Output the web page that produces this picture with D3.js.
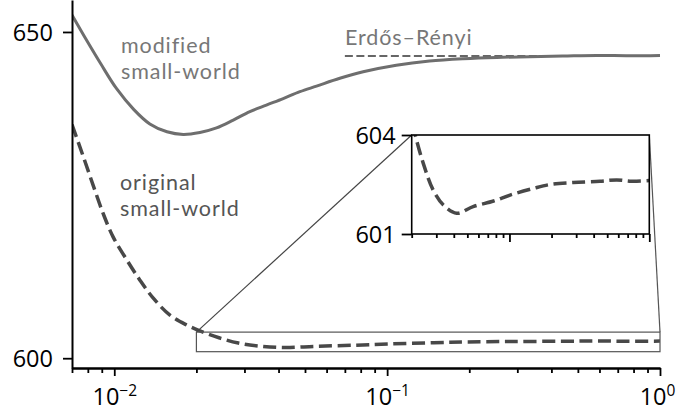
<!DOCTYPE html>
<html><head><meta charset="utf-8">
<script src="https://cdn.jsdelivr.net/npm/d3@7"></script>
<style>
body{margin:0;background:#fff}
svg{display:block}
text{font-family:"Open Sans","Noto Sans",sans-serif}
text.lbl{font-family:Lato,"Open Sans",sans-serif}
</style>
</head><body>
<svg id="c" width="676" height="418"></svg>
<script>
// ---- data ----
const modifiedX = [0.007,0.0079,0.0089,0.0102,0.0118,0.0135,0.0156,0.0179,0.0206,0.0237,0.0273,0.0314,0.0361,0.0416,0.0479,0.0551,0.0671,0.0817,0.108,0.143,0.19,0.252,0.333,0.44,0.585,0.77,1.0];
const modifiedY = [652.6,648.8,645.2,641.3,638.1,635.9,634.7,634.3,634.6,635.3,636.5,637.8,638.8,639.8,640.85,641.7,642.9,643.9,644.9,645.55,645.9,646.1,646.2,646.3,646.4,646.35,646.4];
const originalX = [0.007,0.0077,0.0084,0.0091,0.0099,0.0111,0.0124,0.0139,0.016,0.0184,0.0206,0.0242,0.0285,0.0337,0.042,0.055,0.077,0.101,0.148,0.195,0.286,0.444,0.585,0.75,1.0];
const originalY = [635.8,630.9,626.3,622.2,618.6,615.1,612.0,609.2,606.6,605.1,604.2,603.14,602.33,601.88,601.63,601.83,602.0,602.18,602.38,602.5,602.56,602.6,602.64,602.6,602.62];
const erdosX = [0.07,1.0];
const erdosY = [646.3,646.3];

const xDomain = [0.007,1];
const yDomain = [598.5,654.9];
const yTicks = [600,650];
const xMajorTicks = [0.01,0.1,1];
const xTickBase = ["10","10","10"];
const xTickExp = ["−2","−1","0"];
const xMinorTicks = [0.007,0.008,0.009,0.02,0.03,0.04,0.05,0.06,0.07,0.08,0.09,0.2,0.3,0.4,0.5,0.6,0.7,0.8,0.9];

const insetXDomain = [0.02,1];
const insetYDomain = [601,604];
const insetYTicks = [601,604];
const insetXMajor = [0.1,1];
const insetXMinor = [0.02,0.03,0.04,0.05,0.06,0.07,0.08,0.09,0.2,0.3,0.4,0.5,0.6,0.7,0.8,0.9];

const labels = [
  {lines:["modified","small-world"], x:121, y:53, color:"#777"},
  {lines:["original","small-world"], x:120, y:190, color:"#555"},
  {lines:["Erdős–Rényi"], x:345, y:45, color:"#777"}
];

// ---- layout ----
const W = 676;
const svg = d3.select("#c");
const L = 72, R = 660, T = 0, B = 368;
const x = d3.scaleLog().domain(xDomain).range([L,R]);
const y = d3.scaleLinear().domain(yDomain).range([B,T]);

const defs = svg.append("defs");
defs.append("clipPath").attr("id","mainclip").append("rect")
  .attr("x",L).attr("y",T).attr("width",R-L+2).attr("height",B-T);

const toPts = (xs,ys)=>xs.map((v,i)=>[v,ys[i]]);
const line = (sx,sy)=>d3.line().x(d=>sx(d[0])).y(d=>sy(d[1])).curve(d3.curveCatmullRom.alpha(0.5));

const g = svg.append("g").attr("clip-path","url(#mainclip)");
g.append("path").datum(toPts(erdosX,erdosY)).attr("d",line(x,y))
  .attr("fill","none").attr("stroke","#666").attr("stroke-width",2).attr("stroke-dasharray","8,3.5");
g.append("path").datum(toPts(modifiedX,modifiedY)).attr("d",line(x,y))
  .attr("fill","none").attr("stroke","#6e6e6e").attr("stroke-width",3);
g.append("path").datum(toPts(originalX,originalY)).attr("d",line(x,y))
  .attr("fill","none").attr("stroke","#484848").attr("stroke-width",3.5).attr("stroke-dasharray","13,5.6");

// zoom rect in main
svg.append("rect")
  .attr("x",x(insetXDomain[0])).attr("y",y(insetYDomain[1]))
  .attr("width",x(insetXDomain[1])-x(insetXDomain[0]))
  .attr("height",y(insetYDomain[0])-y(insetYDomain[1]))
  .attr("fill","none").attr("stroke","#555").attr("stroke-width",1.2);

// axes main
const axStyle = sel=>{
  sel.select(".domain").attr("stroke","#000").attr("stroke-width",2);
  sel.selectAll(".tick line").attr("stroke","#000").attr("stroke-width",1.8);
  sel.selectAll("text").attr("fill","#000").attr("font-size",23.5);
};
const ya = svg.append("g").attr("transform",`translate(${L},0)`)
  .call(d3.axisLeft(y).tickValues(yTicks).tickSize(9).tickSizeOuter(0).tickPadding(10).tickFormat(d3.format("d")));
axStyle(ya);
ya.selectAll("text").attr("dy","0.35em");

const xaMinor = svg.append("g").attr("transform",`translate(0,${B})`)
  .call(d3.axisBottom(x).tickValues(xMinorTicks).tickSize(5).tickSizeOuter(0).tickFormat(""));
axStyle(xaMinor);
const xa = svg.append("g").attr("transform",`translate(0,${B})`)
  .call(d3.axisBottom(x).tickValues(xMajorTicks).tickSize(8).tickSizeOuter(0).tickPadding(12).tickFormat(""));
axStyle(xa);
xa.selectAll(".tick text").each(function(d,i){
  const t = d3.select(this).text(null).attr("dy","0.71em");
  t.append("tspan").text(xTickBase[i]);
  t.append("tspan").attr("font-size",15.5).attr("dy","-0.55em").text(xTickExp[i]);
  // keep label inside the canvas
  const bb = this.getBBox();
  const right = x(d) + bb.x + bb.width;
  if (right > W - 1) t.attr("x", -(right - (W - 1)));
});

// inset
const IL = 411.7, IR = 649.3, IT = 135, IB = 234;
const ix = d3.scaleLog().domain(insetXDomain).range([IL,IR]);
const iy = d3.scaleLinear().domain(insetYDomain).range([IB,IT]);

// connectors
svg.append("line").attr("x1",x(insetXDomain[0])).attr("y1",y(insetYDomain[1]))
  .attr("x2",ix(insetXDomain[0])).attr("y2",iy(insetYDomain[1]))
  .attr("stroke","#444").attr("stroke-width",1.2);
svg.append("line").attr("x1",x(insetXDomain[1])).attr("y1",y(insetYDomain[1]))
  .attr("x2",ix(insetXDomain[1])).attr("y2",iy(insetYDomain[1]))
  .attr("stroke","#555").attr("stroke-width",1.2);

svg.append("rect").attr("x",IL).attr("y",IT).attr("width",IR-IL).attr("height",IB-IT).attr("fill","#fff");
defs.append("clipPath").attr("id","insetclip").append("rect")
  .attr("x",IL).attr("y",IT).attr("width",IR-IL).attr("height",IB-IT);
svg.append("g").attr("clip-path","url(#insetclip)")
  .append("path").datum(toPts(originalX,originalY)).attr("d",line(ix,iy))
  .attr("fill","none").attr("stroke","#484848").attr("stroke-width",3.5).attr("stroke-dasharray","13,5.6");

svg.append("rect").attr("x",IL).attr("y",IT).attr("width",IR-IL).attr("height",IB-IT)
  .attr("fill","none").attr("stroke","#000").attr("stroke-width",1.6);

const iya = svg.append("g").attr("transform",`translate(${IL},0)`)
  .call(d3.axisLeft(iy).tickValues(insetYTicks).tickSize(10).tickSizeOuter(0).tickPadding(6).tickFormat(d3.format("d")));
axStyle(iya);
iya.select(".domain").remove();
iya.selectAll("text").attr("dy","0.35em");
const ixaMinor = svg.append("g").attr("transform",`translate(0,${IB})`)
  .call(d3.axisBottom(ix).tickValues(insetXMinor).tickSize(4).tickSizeOuter(0).tickFormat(""));
axStyle(ixaMinor);
ixaMinor.select(".domain").remove();
const ixa = svg.append("g").attr("transform",`translate(0,${IB})`)
  .call(d3.axisBottom(ix).tickValues(insetXMajor).tickSize(8).tickSizeOuter(0).tickFormat(""));
axStyle(ixa);
ixa.select(".domain").remove();

// labels
labels.forEach(l=>{
  l.lines.forEach((s,i)=>svg.append("text").attr("class","lbl").attr("x",l.x).attr("y",l.y+i*26)
    .attr("fill",l.color).attr("font-size",21.5).attr("letter-spacing",0.9).text(s));
});
</script>
</body></html>
